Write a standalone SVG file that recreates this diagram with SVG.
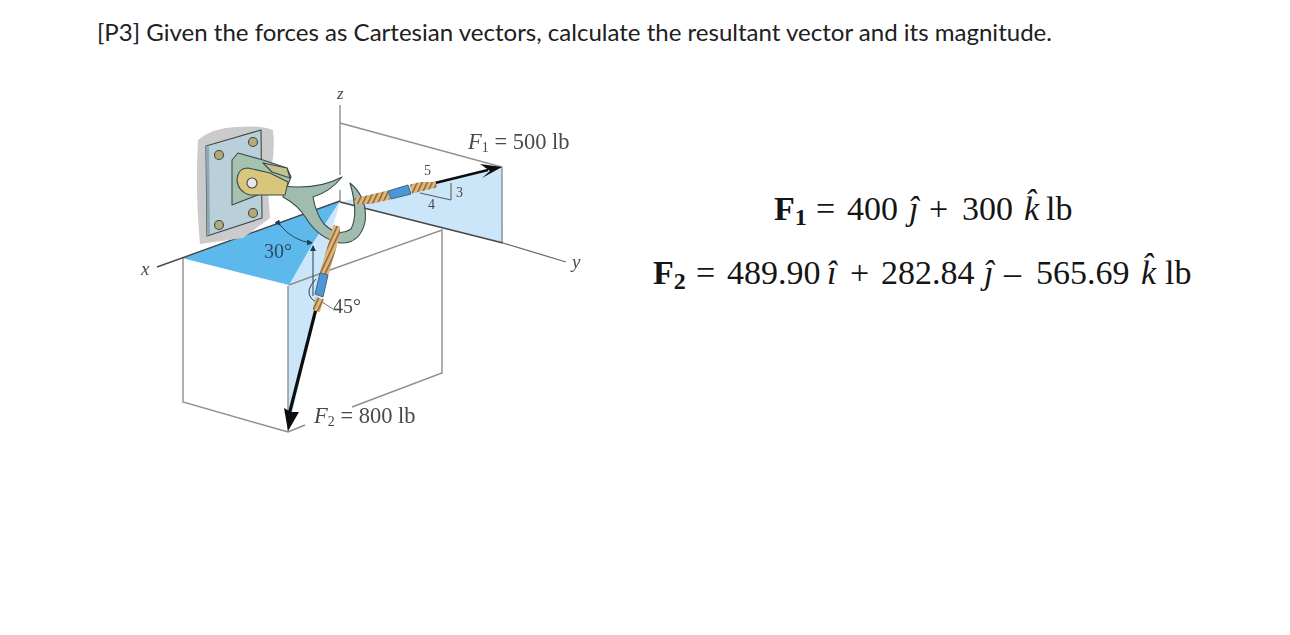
<svg xmlns="http://www.w3.org/2000/svg" width="1290" height="635" viewBox="0 0 1290 635">
<style>
.ln{fill:none;stroke:#8d8f91;stroke-width:1.4}
.ol{stroke:#3d4a48;stroke-width:1.1;stroke-linejoin:round}
.lab{font-family:"Liberation Serif",serif;fill:#4a4a4c;font-size:22.5px}
.it{font-style:italic}
.sub{font-size:14px}
.small{font-size:14px}
.ang{font-size:20px}
.eq{font-family:"Liberation Serif",serif;fill:#151515;font-size:34px}
.b{font-weight:bold}
.sl{fill:#4f96d6;stroke:#3d6488;stroke-width:1}
.dim{fill:none;stroke:#2f3f55;stroke-width:1}
.soft{filter:url(#soft)}
</style>
<defs>
<marker id="tick" markerWidth="6" markerHeight="6" refX="5" refY="3" orient="auto"><path d="M0 0L6 3L0 6Z" fill="#1f3b5c"/></marker>
<filter id="soft" x="-5%" y="-5%" width="110%" height="110%"><feGaussianBlur stdDeviation="0.4"/></filter>
<pattern id="rope" width="4.5" height="4.5" patternUnits="userSpaceOnUse" patternTransform="rotate(25)"><rect width="4.5" height="4.5" fill="#dfb67d"/><rect width="1.5" height="4.5" fill="#8a6636"/></pattern>
</defs>
<rect width="1290" height="635" fill="#fff"/>
<text x="97" y="41" font-family="Lato,'Open Sans',sans-serif" font-size="24" fill="#202020" textLength="955" lengthAdjust="spacingAndGlyphs">[P3] Given the forces as Cartesian vectors, calculate the resultant vector and its magnitude.</text>

<g id="faces" class="soft">
<polygon points="340,202 502,167 503,243" fill="#cbe6f9"/>
<polygon points="288,286 313,243 340,202 326,250 318,300 288,432" fill="#cbe6f9"/>
<polygon points="182,258 340,201 313,243 289,285" fill="#5db9ec"/>
</g>

<g id="connectors" class="soft">
<path class="ln" d="M340 105V175M340 190V202M340 123L502 167V243M183 258V402L288 432L305 425M288 286V432M289 285L330 270L442 230V373L352 407"/>
<path fill="none" stroke="#46484a" stroke-width="1.4" d="M157 267L340 201"/>
<path fill="none" stroke="#46484a" stroke-width="1.8" d="M340 202L503 243"/>
<path fill="none" stroke="#6a6c6e" stroke-width="1.3" d="M503 243L566 262"/>
<path class="dim" d="M280 225Q293 241 312 243" marker-start="url(#tick)" marker-end="url(#tick)"/>
<path class="dim" d="M313 296V246" marker-end="url(#tick)"/>
<path class="dim" d="M316 279Q305 290 311 298Q316 304 322 300"/>
<path d="M435 183L488 170" stroke="#111" stroke-width="2.8" fill="none"/>
<polygon points="502,167 480,164 490,171 482,178" fill="#111"/>
<path d="M317 305L289 415" stroke="#111" stroke-width="3.2" fill="none"/>
<polygon points="288,431 284,408 291,412 299,412" fill="#111"/>
<path fill="none" stroke="#555" stroke-width="1" d="M420 193L451 200V183"/>
<path fill="none" stroke="#777" stroke-width="1" d="M322 302L333 309"/>
</g>

<g id="wall-plate" class="soft">
<path d="M198 140Q212 128 235 127Q260 125 273 130Q275 148 272 165L268 190L270 218L243 238L200 244Q195 190 198 140Z" fill="#cbcbcc"/>
<polygon points="206,146 261,130 262,218 207,236" fill="#b9d0da" class="ol"/>
<polygon points="206,146 209,147 210,234 207,236" fill="#8fa8b3"/>
<g fill="#b5a978" class="ol"><circle cx="219" cy="155" r="4.5"/><circle cx="253" cy="142" r="4.5"/><circle cx="219" cy="225" r="4.5"/><circle cx="253" cy="213" r="4.5"/></g>
<polygon points="232,160 238,153 263,160 287,168 291,177 285,192 263,193 232,205" fill="#a5c2b0" class="ol"/>
</g>

<g id="hook" class="soft">
<path d="M283 186Q318 190 342 177Q330 192 313 197Q316 214 324 224Q338 238 351 229Q359 214 350 183Q368 198 365 222Q360 244 340 243Q318 238 306 218Q298 205 283 197Z" fill="#a0bcae" class="ol"/>
<path d="M237 180Q238 168 248 168L270 173L288 182L285 195L250 195Q238 192 237 180Z" fill="#d8c67c" class="ol"/>
<path d="M263 163L287 168L290 178L272 172Z" fill="#c5c090" class="ol"/>
<circle cx="252" cy="183" r="5" fill="#e8e8e8" class="ol"/>
</g>

<g id="rope-f1" class="soft">
<path fill="none" stroke="url(#rope)" stroke-width="9" d="M355 203L389 195M411 189L436 183"/>
<polygon class="sl" points="388,191 408,185 411,194 391,199"/>
</g>
<g id="rope-f2" class="soft">
<path fill="none" stroke="url(#rope)" stroke-width="9" d="M338 226L324 274"/>
<polygon class="sl" points="320,273 328,275 323,297 315,294"/>
<path fill="none" stroke="url(#rope)" stroke-width="8" d="M320 298L316 311"/>
</g>

<g id="labels" class="soft">
<text class="lab it" x="337" y="99" style="font-size:17px">z</text>
<text class="lab it" x="141" y="275" style="font-size:19px">x</text>
<text class="lab it" x="572" y="268" style="font-size:19px">y</text>
<text class="lab ang" x="264" y="258" style="fill:#2c4a66;font-size:20px">30°</text>
<text class="lab ang" x="333" y="313" style="font-size:20px">45°</text>
<text class="lab small" x="424" y="175" style="font-size:14px">5</text>
<text class="lab small" x="456" y="197" style="font-size:14px">3</text>
<text class="lab small" x="428" y="209" style="font-size:14px">4</text>
<text class="lab" x="468" y="149"><tspan class="it">F</tspan><tspan class="sub" dy="3">1</tspan><tspan dy="-3"> = 500 lb</tspan></text>
<text class="lab" x="314" y="423"><tspan class="it">F</tspan><tspan class="sub" dy="3">2</tspan><tspan dy="-3"> = 800 lb</tspan></text>
</g>

<g id="eq1">
<text class="eq" y="220"><tspan class="b" x="774">F</tspan><tspan class="b" font-size="24" dy="5">1</tspan><tspan x="816" dy="-5">=</tspan><tspan x="847">400</tspan><tspan class="it" x="909">ĵ</tspan><tspan x="929">+</tspan><tspan x="962">300</tspan><tspan class="it" x="1024">k̂</tspan><tspan x="1046">lb</tspan></text>
</g>
<g id="eq2">
<text class="eq" y="284"><tspan class="b" x="653">F</tspan><tspan class="b" font-size="24" dy="5">2</tspan><tspan x="696" dy="-5">=</tspan><tspan x="727">489.90</tspan><tspan class="it" x="827">î</tspan><tspan x="850">+</tspan><tspan x="881">282.84</tspan><tspan class="it" x="984">ĵ</tspan><tspan x="1004">–</tspan><tspan x="1036">565.69</tspan><tspan class="it" x="1141">k̂</tspan><tspan x="1165">lb</tspan></text>
</g>
</svg>
